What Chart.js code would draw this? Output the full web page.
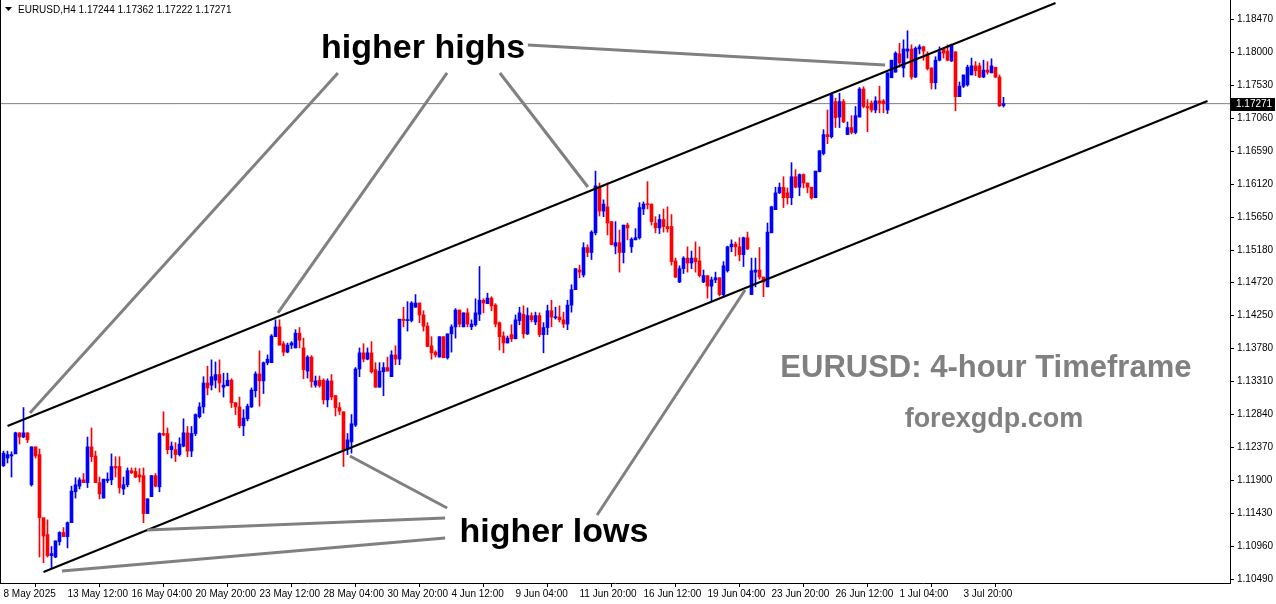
<!DOCTYPE html>
<html>
<head>
<meta charset="utf-8">
<title>EURUSD H4</title>
<script src="https://cdn.jsdelivr.net/npm/chart.js@4.4.1/dist/chart.umd.min.js"></script>
<style>
  html, body { margin: 0; padding: 0; background: #fff; }
  #wrap { width: 1276px; height: 604px; }
</style>
</head>
<body>
<div id="wrap"><canvas id="chartEurusd" width="1276" height="604"></canvas></div>
<script>
// H4 candles, one entry per bar, oldest first
const openPrices = [
  1.1211, 1.1222, 1.1225, 1.1228, 1.1258, 1.1252, 1.1258, 1.1184, 1.1238, 1.1227,
  1.1137, 1.1113, 1.1083, 1.1081, 1.1103, 1.1116, 1.1110, 1.1130, 1.1174, 1.1182,
  1.1191, 1.1187, 1.1238, 1.1225, 1.1187, 1.1165, 1.1190, 1.1191, 1.1210, 1.1210,
  1.1178, 1.1184, 1.1204, 1.1203, 1.1198, 1.1197, 1.1143, 1.1167, 1.1197, 1.1181,
  1.1257, 1.1257, 1.1234, 1.1234, 1.1227, 1.1239, 1.1258, 1.1232, 1.1257, 1.1281,
  1.1295, 1.1329, 1.1326, 1.1333, 1.1341, 1.1323, 1.1325, 1.1333, 1.1301, 1.1295,
  1.1268, 1.1278, 1.1295, 1.1318, 1.1342, 1.1332, 1.1358, 1.1358, 1.1395, 1.1409,
  1.1385, 1.1373, 1.1383, 1.1379, 1.1400, 1.1379, 1.1346, 1.1366, 1.1326, 1.1333,
  1.1333, 1.1305, 1.1332, 1.1311, 1.1294, 1.1288, 1.1234, 1.1245, 1.1269, 1.1349,
  1.1372, 1.1363, 1.1372, 1.1348, 1.1323, 1.1345, 1.1351, 1.1338, 1.1369, 1.1363,
  1.1420, 1.1418, 1.1418, 1.1437, 1.1443, 1.1426, 1.1410, 1.1382, 1.1373, 1.1366,
  1.1395, 1.1365, 1.1399, 1.1409, 1.1433, 1.1409, 1.1429, 1.1409, 1.1412, 1.1427,
  1.1447, 1.1442, 1.1450, 1.1440, 1.1415, 1.1396, 1.1386, 1.1398, 1.1392, 1.1418,
  1.1427, 1.1399, 1.1425, 1.1416, 1.1425, 1.1398, 1.1408, 1.1432, 1.1422, 1.1423,
  1.1419, 1.1413, 1.1440, 1.1462, 1.1490, 1.1483, 1.1522, 1.1515, 1.1543, 1.1608,
  1.1574, 1.1580, 1.1559, 1.1524, 1.1529, 1.1515, 1.1554, 1.1523, 1.1533, 1.1536,
  1.1577, 1.1584, 1.1584, 1.1557, 1.1550, 1.1562, 1.1552, 1.1552, 1.1503, 1.1473,
  1.1492, 1.1507, 1.1500, 1.1507, 1.1503, 1.1473, 1.1482, 1.1467, 1.1476, 1.1479,
  1.1455, 1.1489, 1.1523, 1.1527, 1.1523, 1.1512, 1.1536, 1.1455, 1.1487, 1.1490,
  1.1480, 1.1466, 1.1543, 1.1576, 1.1600, 1.1608, 1.1600, 1.1593, 1.1623, 1.1608,
  1.1626, 1.1614, 1.1608, 1.1593, 1.1630, 1.1656, 1.1683, 1.1680, 1.1730, 1.1708,
  1.1730, 1.1683, 1.1693, 1.1686, 1.1708, 1.1748, 1.1723, 1.1728, 1.1718, 1.1731,
  1.1731, 1.1718, 1.1764, 1.1772, 1.1798, 1.1778, 1.1802, 1.1805, 1.1765, 1.1805,
  1.1808, 1.1798, 1.1778, 1.1757, 1.1789, 1.1805, 1.1802, 1.1788, 1.1801, 1.1737,
  1.1752, 1.1754, 1.1768, 1.1781, 1.1781, 1.1765, 1.1775, 1.1771, 1.1779, 1.1765,
  1.17244
];
const highPrices = [
  1.1232, 1.1232, 1.1231, 1.1259, 1.1258, 1.1294, 1.1258, 1.1238, 1.1238, 1.1235,
  1.1137, 1.1134, 1.1096, 1.1104, 1.1117, 1.1123, 1.1131, 1.1182, 1.1194, 1.1194,
  1.1200, 1.1252, 1.1265, 1.1232, 1.1195, 1.1192, 1.1201, 1.1228, 1.1224, 1.1224,
  1.1195, 1.1208, 1.1208, 1.1208, 1.1207, 1.1208, 1.1164, 1.1197, 1.1200, 1.1258,
  1.1288, 1.1265, 1.1245, 1.1244, 1.1251, 1.1278, 1.1267, 1.1267, 1.1285, 1.1301,
  1.1338, 1.1353, 1.1362, 1.1359, 1.1362, 1.1343, 1.1343, 1.1335, 1.1301, 1.1309,
  1.1291, 1.1299, 1.1322, 1.1345, 1.1375, 1.1359, 1.1369, 1.1398, 1.1419, 1.1419,
  1.1388, 1.1386, 1.1388, 1.1405, 1.1408, 1.1393, 1.1368, 1.1368, 1.1339, 1.1339,
  1.1335, 1.1335, 1.1341, 1.1311, 1.1301, 1.1288, 1.1257, 1.1284, 1.1351, 1.1379,
  1.1385, 1.1379, 1.1388, 1.1358, 1.1358, 1.1358, 1.1366, 1.1375, 1.1382, 1.1420,
  1.1437, 1.1445, 1.1445, 1.1455, 1.1443, 1.1432, 1.1415, 1.1395, 1.1375, 1.1395,
  1.1395, 1.1399, 1.1412, 1.1435, 1.1433, 1.1429, 1.1435, 1.1419, 1.1449, 1.1495,
  1.1449, 1.1457, 1.1452, 1.1442, 1.1416, 1.1402, 1.1396, 1.1412, 1.1426, 1.1437,
  1.1439, 1.1436, 1.1429, 1.1430, 1.1429, 1.1415, 1.1440, 1.1447, 1.1437, 1.1439,
  1.1430, 1.1447, 1.1469, 1.1492, 1.1497, 1.1529, 1.1526, 1.1546, 1.1631, 1.1614,
  1.1590, 1.1614, 1.1559, 1.1559, 1.1547, 1.1554, 1.1557, 1.1536, 1.1549, 1.1586,
  1.1587, 1.1616, 1.1584, 1.1566, 1.1569, 1.1577, 1.1580, 1.1569, 1.1507, 1.1496,
  1.1509, 1.1523, 1.1517, 1.1530, 1.1523, 1.1490, 1.1482, 1.1480, 1.1487, 1.1479,
  1.1502, 1.1524, 1.1533, 1.1530, 1.1536, 1.1537, 1.1544, 1.1507, 1.1507, 1.1522,
  1.1480, 1.1557, 1.1581, 1.1608, 1.1614, 1.1623, 1.1607, 1.1643, 1.1633, 1.1627,
  1.1627, 1.1614, 1.1608, 1.1631, 1.1660, 1.1690, 1.1718, 1.1742, 1.1735, 1.1742,
  1.1733, 1.1701, 1.1710, 1.1723, 1.1750, 1.1751, 1.1733, 1.1731, 1.1737, 1.1752,
  1.1733, 1.1771, 1.1789, 1.1801, 1.1813, 1.1818, 1.1831, 1.1811, 1.1808, 1.1811,
  1.1809, 1.1801, 1.1778, 1.1794, 1.1808, 1.1806, 1.1811, 1.1812, 1.1801, 1.1758,
  1.1768, 1.1782, 1.1792, 1.1787, 1.1785, 1.1789, 1.1787, 1.1791, 1.1779, 1.1768,
  1.17362
];
const lowPrices = [
  1.1210, 1.1215, 1.1195, 1.1228, 1.1242, 1.1251, 1.1244, 1.1182, 1.1222, 1.1081,
  1.1073, 1.1081, 1.1066, 1.1080, 1.1098, 1.1110, 1.1094, 1.1130, 1.1165, 1.1178,
  1.1187, 1.1180, 1.1217, 1.1187, 1.1164, 1.1165, 1.1187, 1.1184, 1.1195, 1.1172,
  1.1170, 1.1181, 1.1200, 1.1194, 1.1188, 1.1130, 1.1143, 1.1167, 1.1181, 1.1174,
  1.1254, 1.1228, 1.1222, 1.1217, 1.1225, 1.1238, 1.1224, 1.1224, 1.1254, 1.1279,
  1.1286, 1.1312, 1.1319, 1.1322, 1.1316, 1.1309, 1.1325, 1.1294, 1.1284, 1.1265,
  1.1254, 1.1275, 1.1294, 1.1309, 1.1296, 1.1314, 1.1355, 1.1358, 1.1395, 1.1383,
  1.1368, 1.1372, 1.1378, 1.1379, 1.1379, 1.1335, 1.1336, 1.1323, 1.1323, 1.1323,
  1.1299, 1.1295, 1.1305, 1.1282, 1.1284, 1.1210, 1.1227, 1.1229, 1.1267, 1.1338,
  1.1359, 1.1362, 1.1343, 1.1323, 1.1323, 1.1311, 1.1346, 1.1338, 1.1355, 1.1355,
  1.1409, 1.1403, 1.1416, 1.1437, 1.1415, 1.1403, 1.1381, 1.1363, 1.1366, 1.1366,
  1.1365, 1.1363, 1.1373, 1.1393, 1.1409, 1.1409, 1.1409, 1.1405, 1.1410, 1.1418,
  1.1429, 1.1442, 1.1432, 1.1409, 1.1376, 1.1372, 1.1386, 1.1388, 1.1392, 1.1412,
  1.1393, 1.1398, 1.1416, 1.1412, 1.1395, 1.1372, 1.1398, 1.1409, 1.1420, 1.1416,
  1.1408, 1.1405, 1.1430, 1.1462, 1.1479, 1.1480, 1.1509, 1.1505, 1.1540, 1.1567,
  1.1566, 1.1540, 1.1526, 1.1513, 1.1487, 1.1500, 1.1533, 1.1515, 1.1533, 1.1534,
  1.1569, 1.1577, 1.1554, 1.1543, 1.1542, 1.1544, 1.1544, 1.1497, 1.1479, 1.1472,
  1.1485, 1.1487, 1.1492, 1.1487, 1.1480, 1.1472, 1.1450, 1.1445, 1.1472, 1.1453,
  1.1453, 1.1487, 1.1516, 1.1510, 1.1503, 1.1495, 1.1519, 1.1455, 1.1466, 1.1477,
  1.1452, 1.1466, 1.1543, 1.1576, 1.1599, 1.1579, 1.1584, 1.1583, 1.1607, 1.1596,
  1.1607, 1.1600, 1.1591, 1.1593, 1.1630, 1.1654, 1.1670, 1.1678, 1.1693, 1.1693,
  1.1700, 1.1683, 1.1684, 1.1684, 1.1708, 1.1721, 1.1687, 1.1715, 1.1714, 1.1714,
  1.1714, 1.1713, 1.1764, 1.1772, 1.1779, 1.1765, 1.1792, 1.1762, 1.1764, 1.1798,
  1.1789, 1.1775, 1.1748, 1.1748, 1.1788, 1.1792, 1.1788, 1.1787, 1.1717, 1.1737,
  1.1750, 1.1752, 1.1768, 1.1767, 1.1764, 1.1764, 1.1769, 1.1771, 1.1764, 1.1723,
  1.17222
];
const closePrices = [
  1.1229, 1.1227, 1.1227, 1.1258, 1.1252, 1.1258, 1.1248, 1.1238, 1.1225, 1.1137,
  1.1111, 1.1083, 1.1086, 1.1104, 1.1116, 1.1110, 1.1130, 1.1175, 1.1184, 1.1191,
  1.1187, 1.1238, 1.1224, 1.1187, 1.1171, 1.1192, 1.1192, 1.1210, 1.1208, 1.1180,
  1.1184, 1.1204, 1.1201, 1.1195, 1.1195, 1.1143, 1.1164, 1.1197, 1.1182, 1.1257,
  1.1255, 1.1234, 1.1239, 1.1227, 1.1242, 1.1258, 1.1232, 1.1257, 1.1284, 1.1295,
  1.1329, 1.1322, 1.1338, 1.1341, 1.1329, 1.1326, 1.1333, 1.1301, 1.1295, 1.1268,
  1.1279, 1.1296, 1.1319, 1.1342, 1.1332, 1.1358, 1.1363, 1.1396, 1.1409, 1.1383,
  1.1373, 1.1383, 1.1386, 1.1400, 1.1390, 1.1348, 1.1366, 1.1331, 1.1332, 1.1325,
  1.1305, 1.1332, 1.1309, 1.1294, 1.1289, 1.1234, 1.1248, 1.1271, 1.1349, 1.1372,
  1.1363, 1.1372, 1.1345, 1.1323, 1.1346, 1.1351, 1.1346, 1.1369, 1.1363, 1.1420,
  1.1418, 1.1419, 1.1443, 1.1443, 1.1426, 1.1410, 1.1381, 1.1372, 1.1369, 1.1395,
  1.1365, 1.1399, 1.1409, 1.1433, 1.1413, 1.1429, 1.1413, 1.1413, 1.1429, 1.1447,
  1.1443, 1.1450, 1.1439, 1.1413, 1.1395, 1.1386, 1.1393, 1.1392, 1.1419, 1.1429,
  1.1399, 1.1425, 1.1419, 1.1425, 1.1398, 1.1408, 1.1432, 1.1423, 1.1423, 1.1419,
  1.1413, 1.1440, 1.1462, 1.1492, 1.1487, 1.1522, 1.1515, 1.1544, 1.1610, 1.1574,
  1.1584, 1.1557, 1.1526, 1.1529, 1.1515, 1.1554, 1.1550, 1.1534, 1.1536, 1.1579,
  1.1584, 1.1583, 1.1559, 1.1550, 1.1562, 1.1552, 1.1549, 1.1502, 1.1480, 1.1492,
  1.1507, 1.1500, 1.1507, 1.1502, 1.1482, 1.1482, 1.1467, 1.1476, 1.1479, 1.1455,
  1.1496, 1.1523, 1.1527, 1.1523, 1.1512, 1.1536, 1.1520, 1.1489, 1.1490, 1.1480,
  1.1473, 1.1544, 1.1580, 1.1600, 1.1608, 1.1593, 1.1593, 1.1623, 1.1608, 1.1626,
  1.1614, 1.1608, 1.1593, 1.1631, 1.1660, 1.1683, 1.1680, 1.1740, 1.1707, 1.1730,
  1.1701, 1.1693, 1.1686, 1.1710, 1.1748, 1.1723, 1.1721, 1.1718, 1.1731, 1.1728,
  1.1727, 1.1771, 1.1789, 1.1799, 1.1785, 1.1805, 1.1805, 1.1765, 1.1806, 1.1808,
  1.1802, 1.1777, 1.1757, 1.1789, 1.1801, 1.1799, 1.1789, 1.1811, 1.1737, 1.1752,
  1.1768, 1.1779, 1.1781, 1.1774, 1.1765, 1.1775, 1.1772, 1.1781, 1.1765, 1.1724,
  1.17271
];

const dateLabels = [
  "8 May 2025", "13 May 12:00", "16 May 04:00", "20 May 20:00", "23 May 12:00",
  "28 May 04:00", "30 May 20:00", "4 Jun 12:00", "9 Jun 04:00", "11 Jun 20:00",
  "16 Jun 12:00", "19 Jun 04:00", "23 Jun 20:00", "26 Jun 12:00", "1 Jul 04:00",
  "3 Jul 20:00"
];
const barsPerLabel = 16;
const priceTicks = [
  1.18470, 1.18000, 1.17530, 1.17060, 1.16590, 1.16120, 1.15650, 1.15180, 1.14720,
  1.14250, 1.13780, 1.13310, 1.12840, 1.12370, 1.11900, 1.11430, 1.10960, 1.10490
];
const symbolName = "EURUSD,H4";
const lastPrice = 1.17271;

// channel lines, {bar index, price}
const upperChannel = [{ x: 1, y: 1.12678 }, { x: 263, y: 1.18705 }];
const lowerChannel = [{ x: 10, y: 1.10597 }, { x: 301, y: 1.17309 }];

// pointer lines from the captions to the swing points
const highPointers = [
  [{ x: 83.6, y: 1.17708 }, { x: 6.6, y: 1.12863 }],
  [{ x: 110.9, y: 1.17708 }, { x: 68.6, y: 1.14288 }],
  [{ x: 124.1, y: 1.17708 }, { x: 146.1, y: 1.16083 }],
  [{ x: 131.1, y: 1.18107 }, { x: 220.4, y: 1.17822 }]
];
const lowPointers = [
  [{ x: 86.6, y: 1.12250 }, { x: 110.9, y: 1.11509 }],
  [{ x: 35.9, y: 1.11196 }, { x: 110.4, y: 1.11367 }],
  [{ x: 14.6, y: 1.10611 }, { x: 110.4, y: 1.11082 }],
  [{ x: 148.4, y: 1.11409 }, { x: 185.4, y: 1.14616 }]
];

const captions = [
  { text: "higher highs", x: 104.9, y: 1.17922, font: "bold 34px 'Liberation Sans'", color: "#000000" },
  { text: "higher lows", x: 137.6, y: 1.11025, font: "bold 34px 'Liberation Sans'", color: "#000000" },
  { text: "EURUSD: 4-hour Timeframe", x: 245.6, y: 1.13376, font: "bold 31px 'Liberation Sans'", color: "#808080" },
  { text: "forexgdp.com", x: 247.6, y: 1.12663, font: "bold 27px 'Liberation Sans'", color: "#808080" }
];

const bullColor = "#0000ff";
const bearColor = "#ff0000";
const axisFont = { family: "Liberation Sans", size: 10 };

const candleColors = closePrices.map((c, i) => (c >= openPrices[i] ? bullColor : bearColor));
const wickData = lowPrices.map((l, i) => ({ x: i, y: [l, highPrices[i]] }));
const bodyData = openPrices.map((o, i) => ({ x: i, y: [o, closePrices[i]] }));

const lineSet = (data, color, width, order) => ({
  type: "line",
  data: data,
  borderColor: color,
  borderWidth: width,
  pointRadius: 0,
  fill: false,
  tension: 0,
  order: order,
});

const overlay = {
  id: "overlay",
  afterDatasetsDraw(chart) {
    const { ctx, scales } = chart;
    const xs = scales.x;
    const ys = scales.y;
    ctx.save();

    captions.forEach((c) => {
      ctx.font = c.font;
      ctx.fillStyle = c.color;
      ctx.textAlign = "center";
      ctx.textBaseline = "alphabetic";
      ctx.fillText(c.text, xs.getPixelForValue(c.x), ys.getPixelForValue(c.y));
    });

    // left edge of the frame
    ctx.fillStyle = "#000";
    ctx.fillRect(0, 0, 1, chart.chartArea.bottom);

    // header
    ctx.beginPath();
    ctx.moveTo(5, 7);
    ctx.lineTo(12, 7);
    ctx.lineTo(8.5, 11);
    ctx.closePath();
    ctx.fill();
    ctx.font = "10px 'Liberation Sans'";
    ctx.textAlign = "left";
    ctx.textBaseline = "middle";
    const quote = [openPrices, highPrices, lowPrices, closePrices].map((a) => a[a.length - 1].toFixed(5)).join(" ");
    ctx.fillText(symbolName + " " + quote, 18, 10);

    // last price tag on the price axis
    const py = Math.round(ys.getPixelForValue(lastPrice));
    ctx.fillStyle = "#000";
    ctx.fillRect(chart.chartArea.right + 1, py - 6, 44, 13);
    ctx.fillStyle = "#fff";
    ctx.fillText(lastPrice.toFixed(5), chart.chartArea.right + 6, py + 0.5);
    ctx.restore();
  },
};

const ctx = document.getElementById("chartEurusd");
new Chart(ctx, {
  type: "bar",
  data: {
    datasets: [
      lineSet([{ x: -1, y: lastPrice }, { x: 308, y: lastPrice }], "#808080", 1, 10),
      {
        label: "wicks",
        data: wickData,
        backgroundColor: candleColors,
        barThickness: 1,
        grouped: false,
        order: 6,
      },
      {
        label: "bodies",
        data: bodyData,
        backgroundColor: candleColors,
        barThickness: 3,
        minBarLength: 1,
        grouped: false,
        order: 5,
      },
      lineSet(upperChannel, "#000000", 2, 2),
      lineSet(lowerChannel, "#000000", 2, 2),
      ...highPointers.map((p) => lineSet(p, "#808080", 3, 1)),
      ...lowPointers.map((p) => lineSet(p, "#808080", 3, 1)),
    ],
  },
  options: {
    responsive: false,
    animation: false,
    layout: { padding: 0 },
    plugins: { legend: { display: false }, tooltip: { enabled: false } },
    scales: {
      x: {
        type: "linear",
        min: -0.875,
        max: 306.625,
        offset: false,
        grid: { display: true, drawOnChartArea: false, drawTicks: true, tickLength: 4, color: "#000" },
        border: { display: true, color: "#000" },
        afterBuildTicks: (scale) => {
          scale.ticks = dateLabels.map((_, k) => ({ value: k * barsPerLabel }));
        },
        ticks: {
          autoSkip: false,
          maxRotation: 0,
          align: "start",
          padding: 1,
          color: "#000",
          font: axisFont,
          callback: (v) => dateLabels[Math.round(v / barsPerLabel)],
        },
        afterFit: (scale) => {
          scale.height = 21;
          scale.paddingLeft = 0;
          scale.paddingRight = 0;
        },
      },
      y: {
        position: "right",
        min: 1.1044,
        max: 1.18748,
        grid: { display: true, drawOnChartArea: false, drawTicks: true, tickLength: 4, color: "#000" },
        border: { display: true, color: "#000" },
        afterBuildTicks: (scale) => {
          scale.ticks = priceTicks.map((v) => ({ value: v }));
        },
        ticks: {
          padding: 3,
          color: "#000",
          font: axisFont,
          callback: (v) => v.toFixed(5),
        },
        afterFit: (scale) => {
          scale.width = 46;
          scale.paddingTop = 0;
          scale.paddingBottom = 0;
        },
      },
    },
  },
  plugins: [overlay],
});
</script>
</body>
</html>
